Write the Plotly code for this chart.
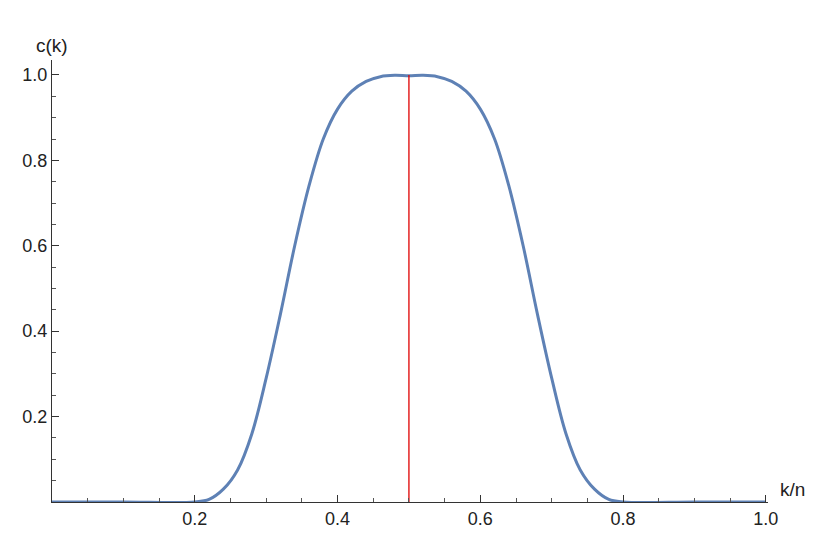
import plotly.graph_objects as go

x_left = [0.0, 0.10, 0.20, 0.22, 0.24, 0.26, 0.28, 0.30, 0.32, 0.34, 0.36, 0.38, 0.40, 0.42, 0.44, 0.46, 0.48, 0.50]
y_left = [0.0, 0.0, 0.0, 0.006, 0.03, 0.075, 0.16, 0.29, 0.44, 0.60, 0.74, 0.85, 0.92, 0.962, 0.985, 0.996, 0.999, 0.998]
x_vals = x_left + [round(1 - v, 4) for v in reversed(x_left[:-1])]
y_vals = y_left + list(reversed(y_left[:-1]))
marker_x = [0.5, 0.5]
marker_y = [0.0, 1.0]
tick_vals = [0.2, 0.4, 0.6, 0.8, 1.0]
tick_text = ["0.2", "0.4", "0.6", "0.8", "1.0"]

fig = go.Figure()
fig.add_trace(go.Scatter(x=x_vals, y=y_vals, mode="lines", line=dict(color="#5E81B5", width=3, shape="spline", smoothing=1.0)))
fig.add_trace(go.Scatter(x=marker_x, y=marker_y, mode="lines", line=dict(color="#E00000", width=1.3)))

axis_common = dict(showgrid=False, zeroline=False, showline=True, linecolor="#333", linewidth=1, automargin=False,
                   ticks="inside", ticklen=7, tickcolor="#333", tickfont=dict(family="Liberation Sans", size=18, color="#222"),
                   minor=dict(ticks="inside", ticklen=4, dtick=0.05, tickcolor="#555"))
fig.update_xaxes(range=[0, 1.003], tickvals=tick_vals, ticktext=tick_text, **axis_common)
fig.update_yaxes(range=[0, 1.035], tickvals=tick_vals, ticktext=tick_text, **axis_common)
fig.update_layout(width=830, height=534, showlegend=False, plot_bgcolor="white", paper_bgcolor="white",
                  margin=dict(l=44, r=70, t=52, b=40),
                  annotations=[
                      dict(text="k/n", x=1.0, xref="paper", xanchor="left", xshift=10, y=0, yref="y", yanchor="bottom", showarrow=False,
                           font=dict(family="Liberation Sans", size=19, color="#222")),
                      dict(text="c(k)", x=0, xref="paper", xanchor="center", y=1.035, yref="y", yanchor="bottom", yshift=2, showarrow=False,
                           font=dict(family="Liberation Sans", size=19, color="#222")),
                  ])
fig.write_html("out.html")
